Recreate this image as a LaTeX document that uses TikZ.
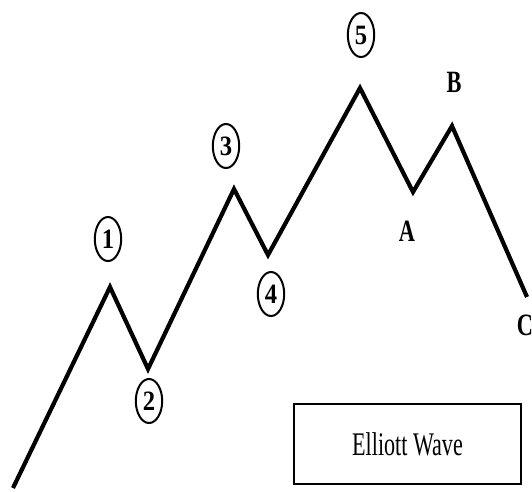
\documentclass[tikz,border=0pt]{standalone}
\usepackage{fontspec}
\setmainfont{Liberation Serif}
\usetikzlibrary{shapes.geometric, positioning}

\begin{document}
\begin{tikzpicture}[x=1pt, y=-1pt,
		wave/.style={line width=4.2pt, line join=miter, black},
		wavenum/.style={draw, ellipse, line width=2pt, minimum width=30pt, minimum height=44pt, inner sep=0pt, xscale=0.88, font=\fontsize{28}{28}\selectfont\bfseries},
		wavelbl/.style={inner sep=0pt, xscale=0.72, font=\fontsize{31}{31}\selectfont\bfseries},
		titlebox/.style={draw, line width=1.3pt, minimum width=227pt, minimum height=80pt, inner sep=0pt}
		]
		\useasboundingbox (0,0) rectangle (532,491);
		
		% ==========================================
		% 1. TURNING POINTS OF THE WAVE
		% ==========================================
		% Data format: name / x / y
		\foreach \p/\px/\py in {
			w0/13/488, w1/110/287, w2/148/369, w3/234/189, w4/268/255,
			w5/360/88, wA/413/192, wB/452/126, wC/527/297%
		} {
			\coordinate (\p) at (\px, \py);
		}
		\draw[wave] (w0) -- (w1) -- (w2) -- (w3) -- (w4) -- (w5) -- (wA) -- (wB) -- (wC);
		
		% ==========================================
		% 2. IMPULSE LABELS (circled numbers)
		% ==========================================
		\foreach \i/\lx/\ly in {1/108/239, 2/149/401, 3/226/146, 4/271/294, 5/361/35} {
			\node[wavenum] (n\i) at (\lx, \ly) {\i};
		}
		
		% ==========================================
		% 3. CORRECTION LABELS
		% ==========================================
		\node[wavelbl] (lA) at (407, 231) {A};
		\node[wavelbl] (lB) at (454, 82) {B};
		\node[wavelbl] (lC) at (525, 325) {C};
		
		% Title box
		\node[titlebox] (title) at (407.5, 444) {\scalebox{0.67}[1]{\fontsize{33}{33}\selectfont Elliott Wave}};
		
	\end{tikzpicture}
\end{document}
